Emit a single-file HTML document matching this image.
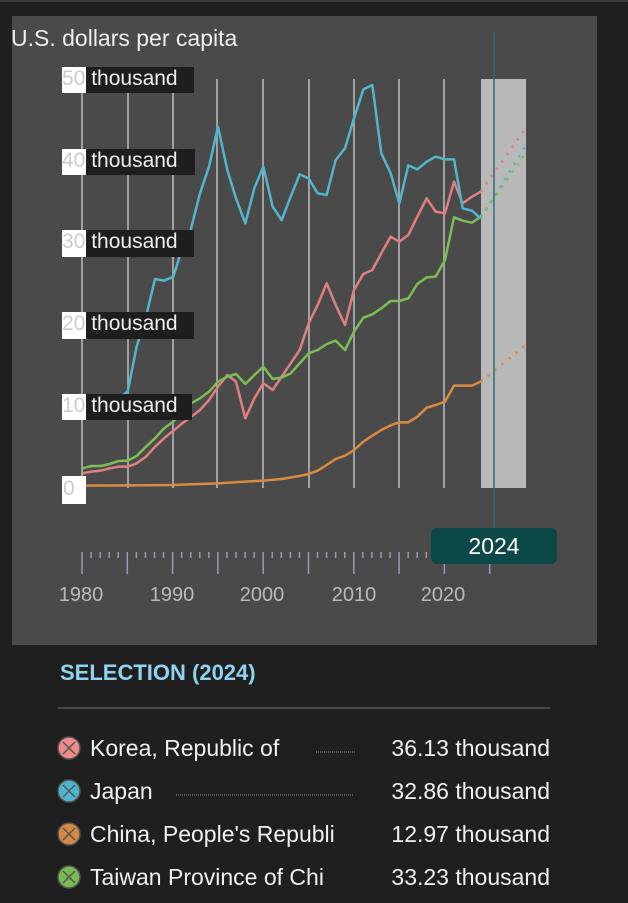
<!DOCTYPE html>
<html><head><meta charset="utf-8"><style>
html,body{margin:0;padding:0;background:#1f1f1f;width:628px;height:903px;overflow:hidden;font-family:"Liberation Sans",sans-serif;}
.t{position:absolute;white-space:nowrap}
</style></head><body>
<div style="position:absolute;left:0;top:0;width:628px;height:2px;background:#3a3a3a"></div>
<div style="position:absolute;left:12px;top:16px;width:585px;height:629px;background:#4a4a4a"></div>
<div class="t" style="left:11px;top:25px;font-size:23px;color:#eee">U.S. dollars per capita</div>
<svg style="position:absolute;left:0;top:0" width="628" height="903">
<g stroke="#bdbdbd" stroke-width="1.5">
<line x1="82" y1="79" x2="82" y2="488"/><line x1="128" y1="79" x2="128" y2="488"/><line x1="173" y1="79" x2="173" y2="488"/><line x1="217" y1="79" x2="217" y2="488"/><line x1="263" y1="79" x2="263" y2="488"/><line x1="309" y1="79" x2="309" y2="488"/><line x1="354" y1="79" x2="354" y2="488"/><line x1="399" y1="79" x2="399" y2="488"/><line x1="444" y1="79" x2="444" y2="488"/>
</g>
<rect x="481" y="79" width="45" height="409" fill="#b9b9b9"/>
<g transform="translate(60,60) scale(0.33333)" fill="none" stroke-width="7.5" stroke-linejoin="round">
<polyline stroke="#d98c40" points="67,1277 340,1275 420,1272 474,1270 556,1265 610,1262 665,1257 719,1248 746,1242 773,1232 800,1215 827,1197 855,1187 882,1170 910,1145 937,1127 964,1110 992,1096 1018,1087 1045,1087 1072,1070 1100,1043 1127,1035 1155,1025 1182,977 1208,977 1236,977 1262,965"/>
<polyline stroke="#e07f82" points="67,1240 95,1235 122,1232 149,1225 176,1220 203,1220 230,1210 258,1190 285,1160 312,1135 340,1112 367,1090 394,1070 420,1050 447,1020 474,980 502,945 528,965 556,1075 583,1015 610,970 638,990 665,950 692,910 719,870 746,790 773,735 800,670 827,735 855,795 882,690 910,642 937,630 964,580 992,530 1018,545 1045,525 1072,470 1100,415 1127,455 1155,460 1182,365 1208,430 1236,410 1262,395"/>
<polyline stroke="#7cbd55" points="67,1225 95,1218 122,1218 149,1212 176,1203 203,1202 230,1188 258,1160 285,1135 312,1105 340,1085 367,1055 394,1030 420,1015 447,995 474,965 502,950 528,942 556,972 583,945 610,920 638,957 665,953 692,940 719,910 746,880 773,870 800,852 827,842 855,870 882,815 910,773 937,763 964,745 992,723 1018,723 1045,715 1072,672 1100,652 1127,650 1155,600 1182,472 1208,482 1236,488 1262,470"/>
<polyline stroke="#52b6cc" points="67,1046 95,1026 122,1044 149,1024 176,1014 203,995 230,860 258,770 285,657 312,662 340,650 365,570 392,510 420,400 447,320 474,200 502,330 528,415 556,490 583,385 610,320 638,440 665,480 692,410 719,343 746,355 773,400 800,405 827,300 855,265 882,175 910,88 937,75 964,280 992,340 1018,430 1045,316 1072,328 1100,305 1127,290 1155,298 1182,298 1208,445 1236,452 1262,475"/>
<g stroke-dasharray="7 20" stroke-width="8">
<line x1="1262" y1="965" x2="1397" y2="855" stroke="#d98c40"/>
<line x1="1262" y1="395" x2="1397" y2="205" stroke="#e07f82"/>
<line x1="1262" y1="475" x2="1397" y2="258" stroke="#52b6cc"/>
<line x1="1262" y1="470" x2="1397" y2="280" stroke="#7cbd55"/>
</g>
</g>
<line x1="494" y1="32" x2="494" y2="528" stroke="#2e6b70" stroke-width="1.5"/>
<g stroke="#9a9ab8" stroke-width="1.5" id="ticks"></g>
<rect x="431" y="528" width="126" height="36" rx="6" fill="#0d4848"/>
<text x="494" y="554" fill="#fff" font-size="23" text-anchor="middle" font-family="Liberation Sans">2024</text>
<g fill="#bbb" font-size="20" text-anchor="middle" font-family="Liberation Sans">
<text x="81" y="601">1980</text><text x="172" y="601">1990</text><text x="262" y="601">2000</text><text x="354" y="601">2010</text><text x="443" y="601">2020</text>
</g>
<line x1="58" y1="708" x2="550" y2="708" stroke="#555" stroke-width="1.5"/>
<g stroke="#999" stroke-width="1" stroke-dasharray="1 1">
<line x1="316" y1="752" x2="355" y2="752"/><line x1="176" y1="795" x2="354" y2="795"/>
</g>
<g stroke="#555" stroke-width="1.5">
<circle cx="69" cy="748" r="11" fill="#f08a8d"/><circle cx="69" cy="791" r="11" fill="#4db6cf"/><circle cx="69" cy="834" r="11" fill="#d48a45"/><circle cx="69" cy="877" r="11" fill="#78bb50"/>
<path d="M63 742l12 12M75 742l-12 12M63 785l12 12M75 785l-12 12M63 828l12 12M75 828l-12 12M63 871l12 12M75 871l-12 12"/>
</g>
</svg>
<div class="t" style="left:60px;top:660px;font-size:22px;font-weight:bold;color:#8fd3ef">SELECTION (2024)</div>
<div style="position:absolute;left:90px;top:727px;width:460px;font-size:23px;color:#f0f0f0;line-height:43px">
<div style="position:relative;height:43px">Korea, Republic of<span style="position:absolute;right:0">36.13 thousand</span></div>
<div style="position:relative;height:43px">Japan<span style="position:absolute;right:0">32.86 thousand</span></div>
<div style="position:relative;height:43px">China, People's Republi<span style="position:absolute;right:0">12.97 thousand</span></div>
<div style="position:relative;height:43px">Taiwan Province of Chi<span style="position:absolute;right:0">33.23 thousand</span></div>
</div>
<div style="position:absolute;left:62px;top:67px;width:24px;height:26px;background:#fff"></div><div style="position:absolute;left:86px;top:67px;width:108px;height:26px;background:#1e1e1e"></div>
<div style="position:absolute;left:62px;top:149px;width:24px;height:26px;background:#fff"></div><div style="position:absolute;left:86px;top:149px;width:109px;height:26px;background:#1e1e1e"></div>
<div style="position:absolute;left:62px;top:230px;width:24px;height:27px;background:#fff"></div><div style="position:absolute;left:86px;top:230px;width:108px;height:27px;background:#1e1e1e"></div>
<div style="position:absolute;left:62px;top:312px;width:24px;height:27px;background:#fff"></div><div style="position:absolute;left:86px;top:312px;width:108px;height:27px;background:#1e1e1e"></div>
<div style="position:absolute;left:62px;top:394px;width:24px;height:26px;background:#fff"></div><div style="position:absolute;left:86px;top:394px;width:106px;height:26px;background:#1e1e1e"></div>
<div style="position:absolute;left:62px;top:476px;width:24px;height:28px;background:#fff"></div>
<div class="t" style="left:62px;top:67px;font-size:21px;color:#ccc">50<span style="color:#eee"> thousand</span></div>
<div class="t" style="left:62px;top:149px;font-size:21px;color:#ccc">40<span style="color:#eee"> thousand</span></div>
<div class="t" style="left:62px;top:230px;font-size:21px;color:#ccc">30<span style="color:#eee"> thousand</span></div>
<div class="t" style="left:62px;top:312px;font-size:21px;color:#ccc">20<span style="color:#eee"> thousand</span></div>
<div class="t" style="left:62px;top:394px;font-size:21px;color:#ccc">10<span style="color:#eee"> thousand</span></div>
<div class="t" style="left:63px;top:477px;font-size:21px;color:#ccc">0</div>
<script>
var g=document.getElementById('ticks'),s='';
for(var y=1980;y<=2025;y++){var x=82+(y-1980)*9.06;var maj=(y%5==0);if(x>431&&x<557&&!maj)continue;if(x>431&&x<557&&maj){s+='<line x1="'+x+'" y1="564" x2="'+x+'" y2="574"/>';continue;}s+='<line x1="'+x+'" y1="552" x2="'+x+'" y2="'+(maj?574:558)+'"/>';}
g.innerHTML=s;
</script>
</body></html>
